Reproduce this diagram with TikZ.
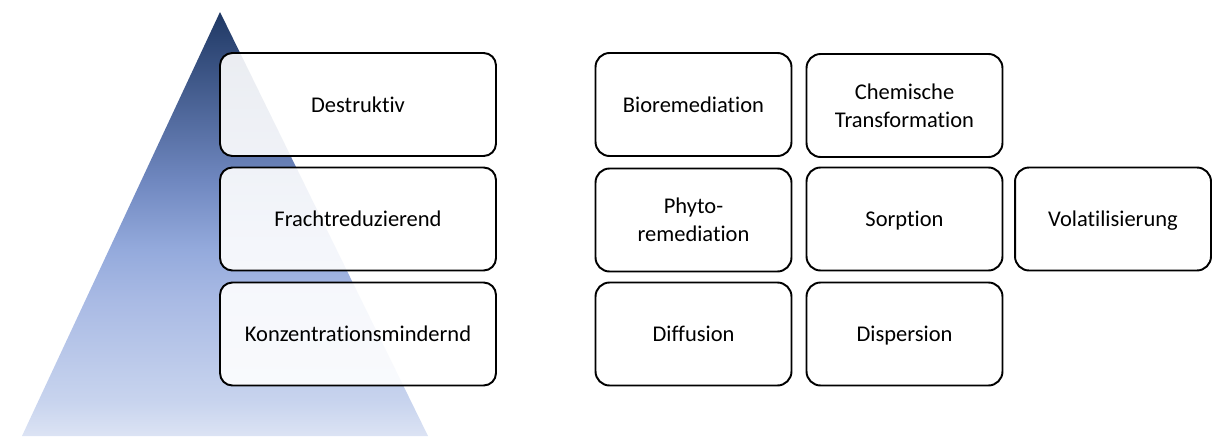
\documentclass[tikz,border=0pt]{standalone}
\usepackage{fontspec}
\setmainfont{Carlito}[Ligatures=NoCommon]
\usetikzlibrary{positioning}
\definecolor{pyrtop}{HTML}{1F3864}
\definecolor{pyrcA}{HTML}{7088C0}
\definecolor{pyrcB}{HTML}{94AADC}
\definecolor{pyrcC}{HTML}{A9BAE4}
\definecolor{pyrcD}{HTML}{C8D4EE}
\definecolor{pyrbot}{HTML}{DCE3F4}
\pgfdeclareverticalshading{pyramid}{100bp}{color(0bp)=(pyrbot); color(25bp)=(pyrbot); color(29bp)=(pyrcD); color(41bp)=(pyrcC); color(47bp)=(pyrcB); color(55bp)=(pyrcA); color(75bp)=(pyrtop); color(100bp)=(pyrtop)}

\begin{document}
\begin{tikzpicture}[
    x=0.02cm, y=-0.02cm,
    boxtext/.style={font=\fontsize{12.8}{15.8}\selectfont},
    oneline/.style={text height=10pt,text depth=1.4pt},
    levelbox/.style={draw,rounded corners=7pt,line width=1.1pt,minimum width=5.52cm,minimum height=2.06cm,fill=white,fill opacity=0.9,text opacity=1,boxtext,oneline},
    procbox/.style={draw,rounded corners=8pt,line width=1.1pt,minimum width=3.92cm,minimum height=2.06cm,fill=white,align=center,boxtext},
]
\useasboundingbox (0,0) rectangle (1213,436);

% Pyramid in the background
\shade[shading=pyramid] (220,12) -- (428,436) -- (22,436) -- cycle;

% Levels
\node[levelbox] (destr) at (358,104.5) {Destruktiv};
\node[levelbox] (fracht) at (358,219) {Frachtreduzierend};
\node[levelbox] (konz) at (358,334) {Konzentrationsmindernd};

% Processes per level
\node[procbox,oneline] (bio) at (693.5,104.5) {Bioremediation};
\node[procbox] (chem) at (904.5,105.5) {Chemische\\Transformation};
\node[procbox] (phyto) at (693.5,220) {Phyto-\\remediation};
\node[procbox,oneline] (sorp) at (904.5,219) {Sorption};
\node[procbox,oneline] (vola) at (1113,219) {Volatilisierung};
\node[procbox,oneline] (diff) at (693.5,334) {Diffusion};
\node[procbox,oneline] (disp) at (904.5,334) {Dispersion};
\end{tikzpicture}
\end{document}
